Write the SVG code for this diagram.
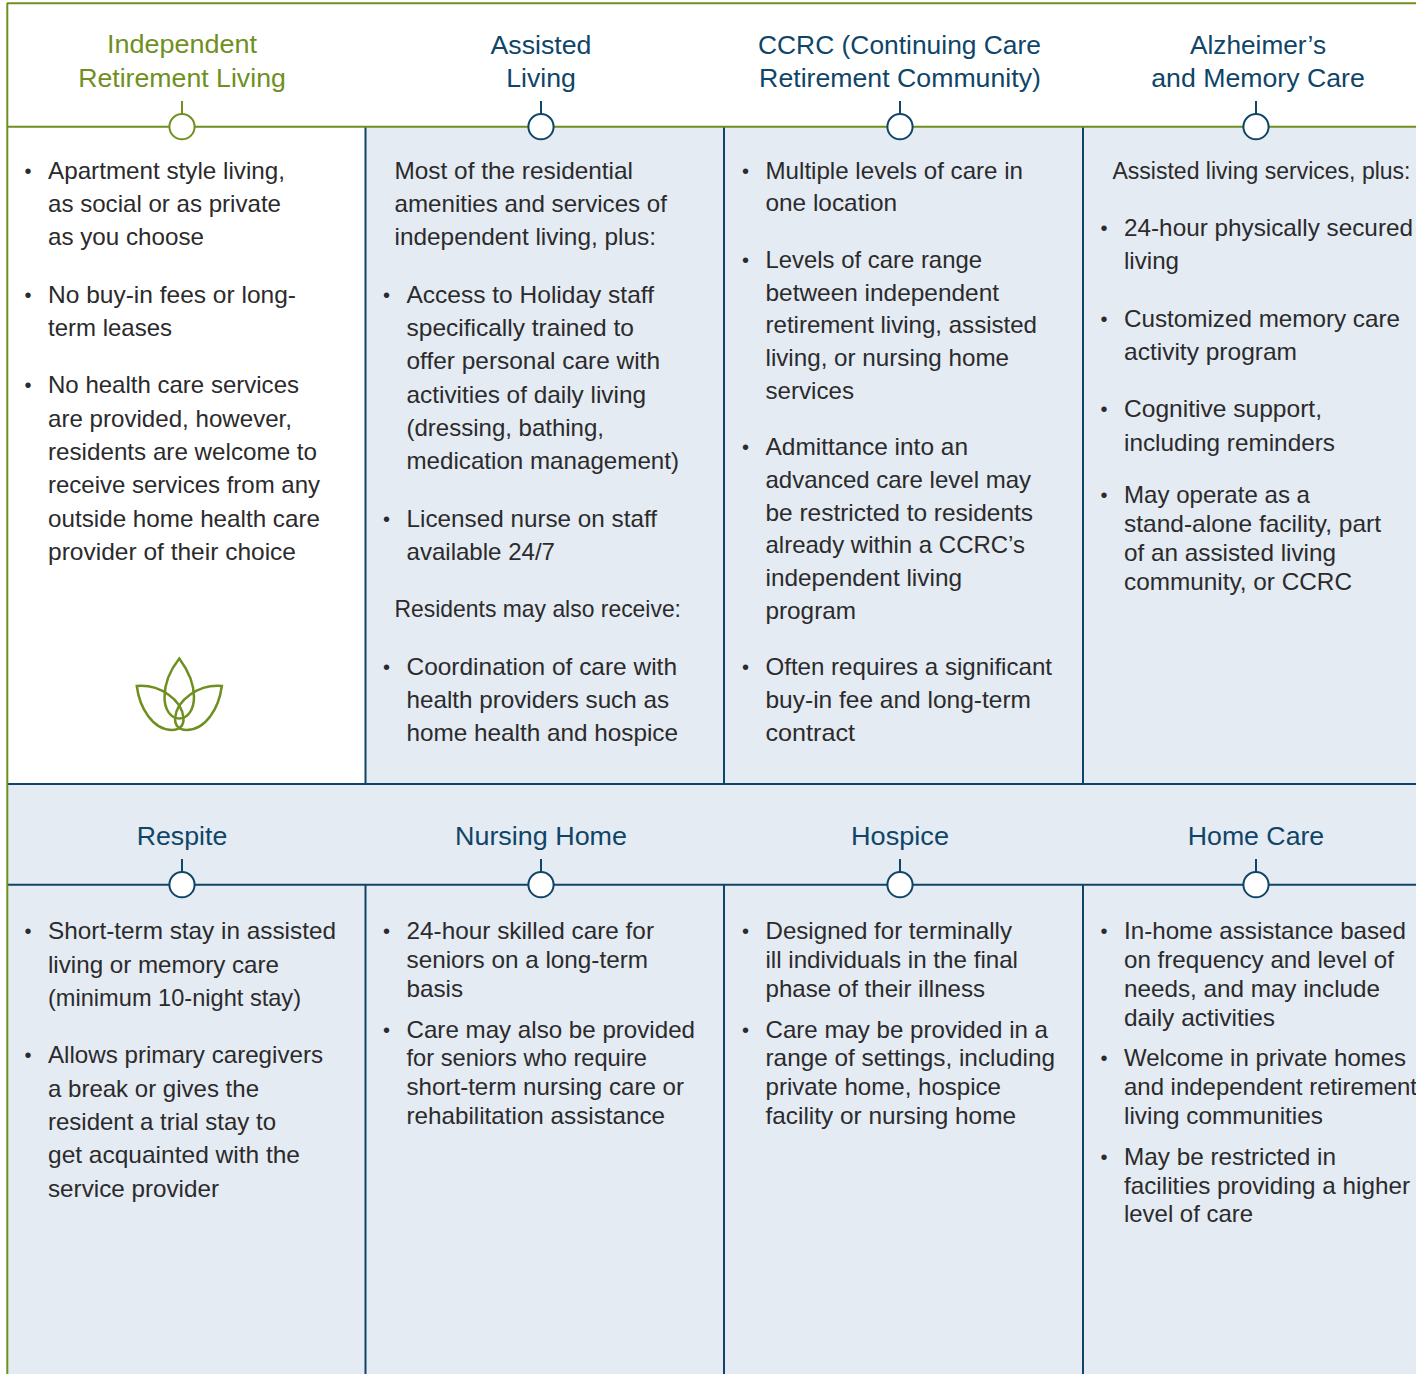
<svg xmlns="http://www.w3.org/2000/svg" width="1416" height="1374" viewBox="0 0 1416 1374">
<style>
text{font-family:"Liberation Sans",Arial,sans-serif}
.b{font-size:24px;fill:#2b2a2c}
.d{font-size:20px;fill:#2b2a2c}
.h{font-size:26.700px;fill:#0f4568;text-anchor:middle}
.g{fill:#6f9020}
.ln{stroke:#0f4568;stroke-width:2;fill:none}
.lg{stroke:#6f9020;stroke-width:2;fill:none}
.cn{stroke:#0f4568;stroke-width:2;fill:#fff}
.cg{stroke:#6f9020;stroke-width:2;fill:#fff}
</style>
<rect width="1416" height="1374" fill="#fff"/>
<g id="panels" fill="#e4ebf2">
<rect x="366" y="127" width="1050" height="657"/>
<rect x="7" y="784" width="1409" height="590"/>
</g>
<g id="connectors">
<path class="ln" d="M365.500 127V784M724 127V784M1083 127V784M365.500 885V1374M724 885V1374M1083 885V1374M7 784H1416M7 884.700H1416"/>
<path class="lg" d="M7 3.300H1416M7.300 1374V3M7 126.700H1416"/>
<path class="lg" d="M182 101V114"/>
<path class="ln" d="M541 101V114M900 101V114M1256 101V114M182 859V872M541 859V872M900 859V872M1256 859V872"/>
</g>
<g id="node-independent">
<text class="h g" x="182" y="53" textLength="150" lengthAdjust="spacingAndGlyphs">Independent</text>
<text class="h g" x="182" y="87">Retirement Living</text>
<circle class="cg" cx="182" cy="126.700" r="12.600"/>
<text class="d" x="24.500" y="178">•</text><text class="b" x="48" y="179" textLength="237" lengthAdjust="spacingAndGlyphs">Apartment style living,</text>
<text class="b" x="48" y="212" textLength="233" lengthAdjust="spacingAndGlyphs">as social or as private</text>
<text class="b" x="48" y="245" textLength="156" lengthAdjust="spacingAndGlyphs">as you choose</text>
<text class="d" x="24.500" y="302">•</text><text class="b" x="48" y="303" textLength="248" lengthAdjust="spacingAndGlyphs">No buy-in fees or long-</text>
<text class="b" x="48" y="336" textLength="124" lengthAdjust="spacingAndGlyphs">term leases</text>
<text class="d" x="24.500" y="392">•</text><text class="b" x="48" y="393" textLength="251" lengthAdjust="spacingAndGlyphs">No health care services</text>
<text class="b" x="48" y="427" textLength="244" lengthAdjust="spacingAndGlyphs">are provided, however,</text>
<text class="b" x="48" y="460" textLength="269" lengthAdjust="spacingAndGlyphs">residents are welcome to</text>
<text class="b" x="48" y="493" textLength="272" lengthAdjust="spacingAndGlyphs">receive services from any</text>
<text class="b" x="48" y="527" textLength="272" lengthAdjust="spacingAndGlyphs">outside home health care</text>
<text class="b" x="48" y="560" textLength="248" lengthAdjust="spacingAndGlyphs">provider of their choice</text>
<g class="lg" id="lotus" style="stroke-width:2.500">
<path d="M179.300 658.500C171 669 164.500 682 164.500 697C164.500 710 171 718.500 179.300 718.500C187.500 718.500 194 710 194 697C194 682 187 669 179.300 658.500Z"/>
<path d="M136.800 686C139.500 708 153 730 172 730C180 730 184 725 183.500 718C182 700 160 684 136.800 686Z"/>
<path d="M221.800 686C219.100 708 205.600 730 186.600 730C178.600 730 174.600 725 175.100 718C176.600 700 198.600 684 221.800 686Z"/>
</g>
</g>
<g id="node-assisted">
<text class="h" x="541" y="54">Assisted</text>
<text class="h" x="541" y="87">Living</text>
<circle class="cn" cx="541" cy="126.700" r="12.600"/>
<text class="b" x="394.500" y="179" textLength="238.500" lengthAdjust="spacingAndGlyphs">Most of the residential</text>
<text class="b" x="394.500" y="212" textLength="272.500" lengthAdjust="spacingAndGlyphs">amenities and services of</text>
<text class="b" x="394.500" y="245" textLength="261.500" lengthAdjust="spacingAndGlyphs">independent living, plus:</text>
<text class="d" x="383" y="302">•</text><text class="b" x="406.500" y="303" textLength="247.500" lengthAdjust="spacingAndGlyphs">Access to Holiday staff</text>
<text class="b" x="406.500" y="336" textLength="227.500" lengthAdjust="spacingAndGlyphs">specifically trained to</text>
<text class="b" x="406.500" y="369" textLength="253.500" lengthAdjust="spacingAndGlyphs">offer personal care with</text>
<text class="b" x="406.500" y="403" textLength="239.500" lengthAdjust="spacingAndGlyphs">activities of daily living</text>
<text class="b" x="406.500" y="436" textLength="197.500" lengthAdjust="spacingAndGlyphs">(dressing, bathing,</text>
<text class="b" x="406.500" y="469" textLength="272.500" lengthAdjust="spacingAndGlyphs">medication management)</text>
<text class="d" x="383" y="526">•</text><text class="b" x="406.500" y="527" textLength="250.500" lengthAdjust="spacingAndGlyphs">Licensed nurse on staff</text>
<text class="b" x="406.500" y="560" textLength="148.500" lengthAdjust="spacingAndGlyphs">available 24/7</text>
<text class="b" x="394.500" y="617" textLength="286.500" lengthAdjust="spacingAndGlyphs">Residents may also receive:</text>
<text class="d" x="383" y="674">•</text><text class="b" x="406.500" y="675" textLength="270.500" lengthAdjust="spacingAndGlyphs">Coordination of care with</text>
<text class="b" x="406.500" y="708" textLength="262.500" lengthAdjust="spacingAndGlyphs">health providers such as</text>
<text class="b" x="406.500" y="741" textLength="271.500" lengthAdjust="spacingAndGlyphs">home health and hospice</text>
</g>
<g id="node-ccrc">
<text class="h" x="899.500" y="54" textLength="283" lengthAdjust="spacingAndGlyphs">CCRC (Continuing Care</text>
<text class="h" x="900" y="87">Retirement Community)</text>
<circle class="cn" cx="900" cy="126.700" r="12.600"/>
<text class="d" x="742" y="178">•</text><text class="b" x="765.500" y="179" textLength="257.500" lengthAdjust="spacingAndGlyphs">Multiple levels of care in</text>
<text class="b" x="765.500" y="211" textLength="131.500" lengthAdjust="spacingAndGlyphs">one location</text>
<text class="d" x="742" y="267">•</text><text class="b" x="765.500" y="268" textLength="216.500" lengthAdjust="spacingAndGlyphs">Levels of care range</text>
<text class="b" x="765.500" y="301" textLength="233.500" lengthAdjust="spacingAndGlyphs">between independent</text>
<text class="b" x="765.500" y="333" textLength="271.500" lengthAdjust="spacingAndGlyphs">retirement living, assisted</text>
<text class="b" x="765.500" y="366" textLength="243.500" lengthAdjust="spacingAndGlyphs">living, or nursing home</text>
<text class="b" x="765.500" y="399" textLength="88.500" lengthAdjust="spacingAndGlyphs">services</text>
<text class="d" x="742" y="454">•</text><text class="b" x="765.500" y="455" textLength="202.500" lengthAdjust="spacingAndGlyphs">Admittance into an</text>
<text class="b" x="765.500" y="488" textLength="265.500" lengthAdjust="spacingAndGlyphs">advanced care level may</text>
<text class="b" x="765.500" y="521" textLength="267.500" lengthAdjust="spacingAndGlyphs">be restricted to residents</text>
<text class="b" x="765.500" y="553" textLength="259.500" lengthAdjust="spacingAndGlyphs">already within a CCRC’s</text>
<text class="b" x="765.500" y="586" textLength="196.500" lengthAdjust="spacingAndGlyphs">independent living</text>
<text class="b" x="765.500" y="619" textLength="90.500" lengthAdjust="spacingAndGlyphs">program</text>
<text class="d" x="742" y="674">•</text><text class="b" x="765.500" y="675" textLength="286.500" lengthAdjust="spacingAndGlyphs">Often requires a significant</text>
<text class="b" x="765.500" y="708" textLength="265.500" lengthAdjust="spacingAndGlyphs">buy-in fee and long-term</text>
<text class="b" x="765.500" y="741" textLength="89.500" lengthAdjust="spacingAndGlyphs">contract</text>
</g>
<g id="node-memory">
<text class="h" x="1258" y="54" textLength="136" lengthAdjust="spacingAndGlyphs">Alzheimer’s</text>
<text class="h" x="1258" y="87">and Memory Care</text>
<circle class="cn" cx="1256" cy="126.700" r="12.600"/>
<text class="b" x="1112.500" y="179" textLength="298" lengthAdjust="spacingAndGlyphs" style="font-size:23.300px">Assisted living services, plus:</text>
<text class="d" x="1100.500" y="235">•</text><text class="b" x="1124" y="236" textLength="289" lengthAdjust="spacingAndGlyphs">24-hour physically secured</text>
<text class="b" x="1124" y="269" textLength="55" lengthAdjust="spacingAndGlyphs">living</text>
<text class="d" x="1100.500" y="326">•</text><text class="b" x="1124" y="327" textLength="276" lengthAdjust="spacingAndGlyphs">Customized memory care</text>
<text class="b" x="1124" y="360" textLength="173" lengthAdjust="spacingAndGlyphs">activity program</text>
<text class="d" x="1100.500" y="416">•</text><text class="b" x="1124" y="417" textLength="198" lengthAdjust="spacingAndGlyphs">Cognitive support,</text>
<text class="b" x="1124" y="451" textLength="211" lengthAdjust="spacingAndGlyphs">including reminders</text>
<text class="d" x="1100.500" y="502">•</text><text class="b" x="1124" y="503" textLength="186" lengthAdjust="spacingAndGlyphs">May operate as a</text>
<text class="b" x="1124" y="532" textLength="257" lengthAdjust="spacingAndGlyphs">stand-alone facility, part</text>
<text class="b" x="1124" y="561" textLength="212" lengthAdjust="spacingAndGlyphs">of an assisted living</text>
<text class="b" x="1124" y="590" textLength="228" lengthAdjust="spacingAndGlyphs">community, or CCRC</text>
</g>
<g id="node-respite">
<text class="h" x="182" y="845">Respite</text>
<circle class="cn" cx="182" cy="884.700" r="12.600"/>
<text class="d" x="24.500" y="938">•</text><text class="b" x="48" y="939" textLength="288" lengthAdjust="spacingAndGlyphs">Short-term stay in assisted</text>
<text class="b" x="48" y="973" textLength="231" lengthAdjust="spacingAndGlyphs">living or memory care</text>
<text class="b" x="48" y="1006" textLength="253" lengthAdjust="spacingAndGlyphs">(minimum 10-night stay)</text>
<text class="d" x="24.500" y="1062">•</text><text class="b" x="48" y="1063" textLength="275" lengthAdjust="spacingAndGlyphs">Allows primary caregivers</text>
<text class="b" x="48" y="1097" textLength="211" lengthAdjust="spacingAndGlyphs">a break or gives the</text>
<text class="b" x="48" y="1130" textLength="228" lengthAdjust="spacingAndGlyphs">resident a trial stay to</text>
<text class="b" x="48" y="1163" textLength="252" lengthAdjust="spacingAndGlyphs">get acquainted with the</text>
<text class="b" x="48" y="1197" textLength="171" lengthAdjust="spacingAndGlyphs">service provider</text>
</g>
<g id="node-nursing">
<text class="h" x="541" y="845" textLength="172" lengthAdjust="spacingAndGlyphs">Nursing Home</text>
<circle class="cn" cx="541" cy="884.700" r="12.600"/>
<text class="d" x="383" y="938">•</text><text class="b" x="406.500" y="939" textLength="247.500" lengthAdjust="spacingAndGlyphs">24-hour skilled care for</text>
<text class="b" x="406.500" y="968" textLength="241.500" lengthAdjust="spacingAndGlyphs">seniors on a long-term</text>
<text class="b" x="406.500" y="997" textLength="56.500" lengthAdjust="spacingAndGlyphs">basis</text>
<text class="d" x="383" y="1037">•</text><text class="b" x="406.500" y="1038" textLength="288.500" lengthAdjust="spacingAndGlyphs">Care may also be provided</text>
<text class="b" x="406.500" y="1066" textLength="240.500" lengthAdjust="spacingAndGlyphs">for seniors who require</text>
<text class="b" x="406.500" y="1095" textLength="277.500" lengthAdjust="spacingAndGlyphs">short-term nursing care or</text>
<text class="b" x="406.500" y="1124" textLength="258.500" lengthAdjust="spacingAndGlyphs">rehabilitation assistance</text>
</g>
<g id="node-hospice">
<text class="h" x="900" y="845" textLength="98" lengthAdjust="spacingAndGlyphs">Hospice</text>
<circle class="cn" cx="900" cy="884.700" r="12.600"/>
<text class="d" x="742" y="938">•</text><text class="b" x="765.500" y="939" textLength="246.500" lengthAdjust="spacingAndGlyphs">Designed for terminally</text>
<text class="b" x="765.500" y="968" textLength="252.500" lengthAdjust="spacingAndGlyphs">ill individuals in the final</text>
<text class="b" x="765.500" y="997" textLength="219.500" lengthAdjust="spacingAndGlyphs">phase of their illness</text>
<text class="d" x="742" y="1037">•</text><text class="b" x="765.500" y="1038" textLength="282.500" lengthAdjust="spacingAndGlyphs">Care may be provided in a</text>
<text class="b" x="765.500" y="1066" textLength="289.500" lengthAdjust="spacingAndGlyphs">range of settings, including</text>
<text class="b" x="765.500" y="1095" textLength="235.500" lengthAdjust="spacingAndGlyphs">private home, hospice</text>
<text class="b" x="765.500" y="1124" textLength="250.500" lengthAdjust="spacingAndGlyphs">facility or nursing home</text>
</g>
<g id="node-homecare">
<text class="h" x="1256" y="845">Home Care</text>
<circle class="cn" cx="1256" cy="884.700" r="12.600"/>
<text class="d" x="1100.500" y="938">•</text><text class="b" x="1124" y="939" textLength="282" lengthAdjust="spacingAndGlyphs">In-home assistance based</text>
<text class="b" x="1124" y="968" textLength="270" lengthAdjust="spacingAndGlyphs">on frequency and level of</text>
<text class="b" x="1124" y="997" textLength="256" lengthAdjust="spacingAndGlyphs">needs, and may include</text>
<text class="b" x="1124" y="1026" textLength="151" lengthAdjust="spacingAndGlyphs">daily activities</text>
<text class="d" x="1100.500" y="1065">•</text><text class="b" x="1124" y="1066" textLength="282" lengthAdjust="spacingAndGlyphs">Welcome in private homes</text>
<text class="b" x="1124" y="1095" textLength="293" lengthAdjust="spacingAndGlyphs">and independent retirement</text>
<text class="b" x="1124" y="1124" textLength="199" lengthAdjust="spacingAndGlyphs">living communities</text>
<text class="d" x="1100.500" y="1164">•</text><text class="b" x="1124" y="1165" textLength="212" lengthAdjust="spacingAndGlyphs">May be restricted in</text>
<text class="b" x="1124" y="1194" textLength="286" lengthAdjust="spacingAndGlyphs">facilities providing a higher</text>
<text class="b" x="1124" y="1222" textLength="129" lengthAdjust="spacingAndGlyphs">level of care</text>
</g>
</svg>
